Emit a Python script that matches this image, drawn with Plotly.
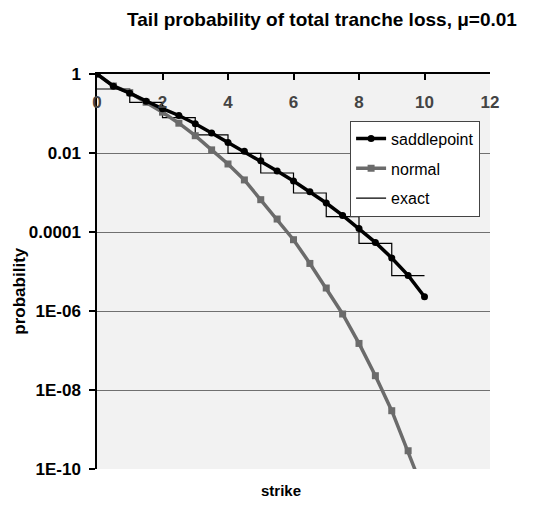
import plotly.graph_objects as go

FONT = 'Arial, Liberation Sans, sans-serif'

STRIKE = [0.0, 0.5, 1.0, 1.5, 2.0, 2.5, 3.0, 3.5, 4.0, 4.5, 5.0,
          5.5, 6.0, 6.5, 7.0, 7.5, 8.0, 8.5, 9.0, 9.5, 10.0]

SADDLEPOINT = [1.0, 0.491, 0.327, 0.205, 0.132, 0.089, 0.0552, 0.0321,
               0.0185, 0.0110, 0.00638, 0.00350, 0.00195, 0.00104,
               5.42e-4, 2.63e-4, 1.23e-4, 5.45e-5, 2.20e-5, 7.97e-6, 2.30e-6]

NORMAL = [1.0, 0.497, 0.337, 0.193, 0.108, 0.0568, 0.0274, 0.0120,
          0.00527, 0.00208, 6.58e-4, 2.13e-4, 6.38e-5, 1.60e-5, 3.82e-6,
          8.39e-7, 1.51e-7, 2.30e-8, 2.99e-9, 2.90e-10, 2.37e-11]

EXACT_STRIKE = [0, 1, 2, 3, 4, 5, 6, 7, 8, 9, 10]
EXACT = [0.417, 0.191, 0.0783, 0.0286, 0.00977, 0.00312, 9.7e-4,
         2.44e-4, 5.14e-5, 7.83e-6, 7.83e-6]

X_TICKS = [0, 2, 4, 6, 8, 10, 12]
Y_TICKS = [1, 0.01, 1e-4, 1e-6, 1e-8, 1e-10]
Y_TICK_TEXT = ['1', '0.01', '0.0001', '1E-06', '1E-08', '1E-10']

# the page puts the figure ~7px in from the top-left corner,
# so the figure is made that much smaller to fit the window
SHIFT = 7
WIDTH = 547 - SHIFT
HEIGHT = 506 - SHIFT


def _bold(labels, pad=''):
    return ['<b>%s</b>%s' % (t, pad) for t in labels]


def _traces():
    saddle = go.Scatter(
        name='saddlepoint', x=STRIKE, y=SADDLEPOINT, mode='lines+markers',
        legendgroup='s', legendrank=1,
        line=dict(color='black', width=3.5),
        marker=dict(symbol='circle', size=7, color='black'))
    normal = go.Scatter(
        name='normal', x=STRIKE, y=NORMAL, mode='lines+markers',
        legendgroup='n', legendrank=2,
        line=dict(color='#6b6b6b', width=3.5),
        marker=dict(symbol='square', size=7, color='#6b6b6b'))
    exact = go.Scatter(
        name='exact', x=EXACT_STRIKE, y=EXACT, mode='lines',
        legendgroup='e', legendrank=3,
        line=dict(color='black', width=1.2, shape='hv'))
    # exact drawn first so the curves sit on top of the steps
    return [exact, normal, saddle]


layout = go.Layout(
    width=WIDTH, height=HEIGHT,
    margin=dict(l=96 - SHIFT, r=58, t=73 - SHIFT, b=38),
    paper_bgcolor='white',
    plot_bgcolor='#f2f2f2',
    font=dict(family=FONT, size=15, color='black'),
    title=dict(
        text='<b>Tail probability of total tranche loss, \u03bc=0.01</b>',
        x=(321 - SHIFT) / float(WIDTH), xref='container', xanchor='center',
        y=0.99, yref='container', yanchor='top',
        pad=dict(t=0, b=0),
        font=dict(size=19)),
    xaxis=dict(
        range=[0, 12], side='top', automargin=False,
        tickvals=X_TICKS, ticktext=_bold(X_TICKS),
        ticks='inside', ticklen=6, tickwidth=2, tickcolor='black',
        ticklabelposition='inside', ticklabeloverflow='allow',
        ticklabelstandoff=17,
        tickfont=dict(size=17, family=FONT),
        showline=True, linecolor='black', linewidth=2,
        showgrid=False, zeroline=False),
    yaxis=dict(
        type='log', range=[-10, 0], automargin=False,
        tickvals=Y_TICKS, ticktext=_bold(Y_TICK_TEXT, '\u00a0'),
        ticks='outside', ticklen=6, tickwidth=2, tickcolor='black',
        tickfont=dict(size=17, family=FONT),
        showline=True, linecolor='black', linewidth=2,
        showgrid=True, gridcolor='#707070', gridwidth=1),
    legend=dict(
        x=0.644, y=0.882, xanchor='left', yanchor='top',
        bgcolor='white', bordercolor='#444444', borderwidth=1,
        font=dict(size=16, family=FONT),
        tracegroupgap=6),
    annotations=[
        dict(text='<b>strike</b>', x=0.468, y=-0.055, xref='paper',
             yref='paper', showarrow=False, font=dict(size=15),
             xanchor='center', yanchor='middle'),
        dict(text='<b>probability</b>', x=(19 - 96) / 393.0, xref='paper',
             y=0.449, yref='paper', showarrow=False, textangle=-90,
             xanchor='center', yanchor='middle',
             font=dict(size=17)),
    ],
)

fig = go.Figure(data=_traces(), layout=layout)
fig.write_html('out.html')
